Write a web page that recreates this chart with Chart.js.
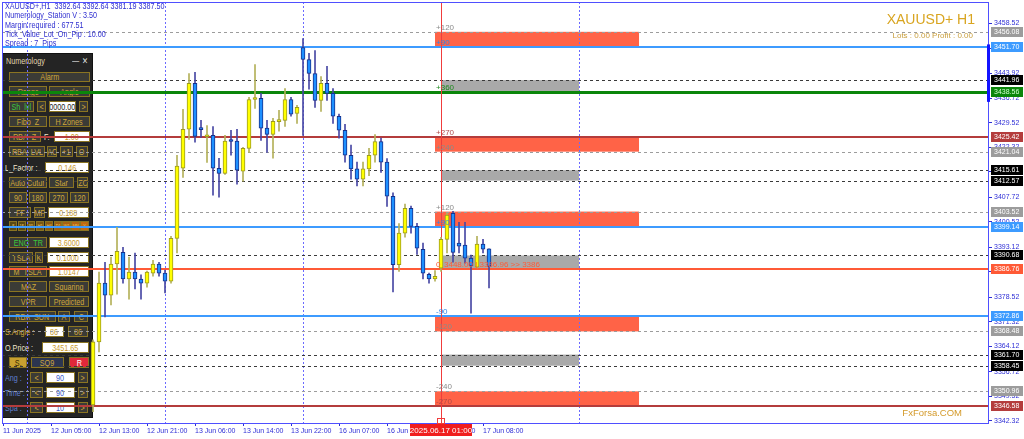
<!DOCTYPE html>
<html>
<head>
<meta charset="utf-8">
<script src="https://cdn.jsdelivr.net/npm/chart.js@4.4.1/dist/chart.umd.min.js"></script>
<style>
html, body { margin: 0; padding: 0; background: #fff; width: 1024px; height: 439px; overflow: hidden; }
#wrap { position: relative; width: 1024px; height: 439px; font-family: 'Liberation Sans', sans-serif; }
#chart { position: absolute; left: 0; top: 0; z-index: 2; }
.p { position: absolute; z-index: 1; box-sizing: border-box; font-size: 9px; display: flex; align-items: center; justify-content: center; white-space: nowrap; overflow: hidden; }
.p span { display: inline-block; transform: scaleX(0.8); transform-origin: 50% 50%; }
.frame { background: #242424; border: 1px solid #111; }
.b { background: #3b3b36; border: 1px solid #8a7422; color: #cfa63a; }
.g { background: #3b3b36; border: 1px solid #8a7422; color: #3cc83c; }
.w { background: #fff; border: 1px solid #8a7422; color: #c9992c; }
.wk { background: #fff; border: 1px solid #8a7422; color: #222; }
.wb { background: #fff; border: 1px solid #8a7422; color: #3a5ac8; }
.l, .lw, .lb { justify-content: flex-start; }
.l span, .lw span, .lb span { transform-origin: 0 50%; }
.l { color: #d8ab3a; }
.lw { color: #efe6cc; }
.lb { color: #5f7fd0; }
.sg { background: #c8a030; border: 1px solid #8a7422; color: #3a2a00; }
.sd { background: #2c3550; border: 1px solid #8a7422; color: #cfa63a; }
.sr { background: #e0283a; border: 1px solid #8a7422; color: #fff; }
.txt { position: absolute; z-index: 3; white-space: nowrap; }
#head { left: 5px; top: 2px; color: #2f2fd0; font-size: 9px; line-height: 9.3px; transform: scaleX(0.8); transform-origin: 0 0; }
#sym { right: 49px; top: 11px; color: #d9a520; font-size: 14px; }
#lots { right: 51px; top: 31px; color: #c9a040; font-size: 8px; }
#brand { right: 62px; top: 407px; color: #d49a2a; font-size: 9.5px; }
</style>
</head>
<body>
<div id="wrap">
  <canvas id="chart" width="1024" height="439"></canvas>
  <div id="head" class="txt">XAUUSD+,H1&nbsp; 3392.64 3392.64 3381.19 3387.50<br>Numerology_Station V : 3.50<br>Margin required : 677.51<br>Tick_Value_Lot_On_Pip : 10.00<br>Spread : 7&nbsp; Pips</div>
  <div id="sym" class="txt">XAUUSD+ H1</div>
  <div id="lots" class="txt">Lots : 0.00 Profit : 0.00</div>
  <div id="brand" class="txt">FxForsa.COM</div>
</div>
<script>
// ---- data ----
const FIRST_BAR = 11; // bar index of the first candle (bar 0 = 12 Jun 01:00)

const candleOpen = [3347.0, 3365.4, 3382.6, 3379.1, 3388.2, 3391.6, 3383.8, 3385.8, 3383.8, 3382.6,
  3385.5, 3388.2, 3385.5, 3383.2, 3395.7, 3416.2, 3427.6, 3441.0, 3428.0, 3425.4,
  3425.8, 3416.2, 3414.7, 3424.3, 3424.1, 3415.3, 3422.0, 3436.3, 3436.6, 3427.9,
  3426.1, 3429.8, 3430.2, 3436.3, 3432.2, 3451.5, 3448.0, 3443.9, 3436.0, 3441.0,
  3438.1, 3431.4, 3427.3, 3420.0, 3416.0, 3413.0, 3416.0, 3420.0, 3424.0, 3418.0,
  3408.0, 3388.0, 3397.2, 3404.5, 3399.2, 3392.5, 3385.2, 3383.8, 3387.0, 3395.4,
  3403.0, 3394.3, 3393.7, 3389.9, 3387.3, 3394.0, 3392.64];
const candleHigh = [3366.0, 3385.8, 3388.7, 3390.2, 3398.9, 3393.1, 3390.2, 3391.4, 3385.0, 3386.1,
  3389.3, 3388.7, 3386.4, 3396.3, 3420.0, 3433.4, 3443.9, 3444.2, 3430.2, 3428.7,
  3428.4, 3419.1, 3425.8, 3427.3, 3427.6, 3422.3, 3436.9, 3446.5, 3438.1, 3430.2,
  3430.8, 3433.1, 3439.5, 3436.9, 3434.6, 3454.1, 3449.8, 3450.6, 3443.0, 3446.0,
  3439.5, 3432.0, 3429.0, 3423.0, 3418.0, 3418.0, 3422.0, 3426.0, 3425.0, 3419.0,
  3409.0, 3400.0, 3405.7, 3405.1, 3400.1, 3394.3, 3385.5, 3386.3, 3396.0, 3403.1,
  3403.6, 3400.4, 3400.4, 3390.8, 3396.3, 3395.4, 3392.64];
const candleLow = [3345.0, 3362.5, 3372.7, 3376.2, 3379.4, 3382.6, 3377.9, 3380.9, 3377.9, 3381.4,
  3384.6, 3384.6, 3379.7, 3382.6, 3391.4, 3413.5, 3424.6, 3423.8, 3425.2, 3417.9,
  3408.3, 3407.7, 3414.4, 3420.0, 3411.5, 3412.4, 3420.8, 3433.7, 3424.3, 3420.8,
  3419.1, 3427.0, 3428.4, 3431.4, 3429.3, 3425.8, 3439.3, 3434.0, 3432.8, 3436.0,
  3429.3, 3425.0, 3418.0, 3413.0, 3411.0, 3411.0, 3414.0, 3418.0, 3415.0, 3405.0,
  3380.0, 3386.0, 3396.0, 3397.2, 3391.0, 3383.8, 3382.6, 3383.2, 3386.0, 3391.4,
  3388.7, 3391.4, 3388.4, 3373.8, 3387.0, 3391.4, 3381.19];
const candleClose = [3365.4, 3382.6, 3379.1, 3388.2, 3391.9, 3383.8, 3385.8, 3383.8, 3382.6, 3385.8,
  3388.2, 3385.5, 3383.2, 3395.7, 3416.8, 3427.6, 3441.0, 3425.5, 3427.5, 3425.9,
  3416.2, 3414.7, 3424.1, 3424.0, 3415.6, 3422.0, 3436.3, 3436.6, 3427.9, 3426.1,
  3429.9, 3430.1, 3436.3, 3432.0, 3434.0, 3448.0, 3443.9, 3436.0, 3441.0, 3438.1,
  3431.4, 3427.3, 3420.0, 3416.0, 3413.0, 3416.0, 3420.0, 3424.0, 3418.0, 3408.0,
  3388.0, 3397.2, 3404.5, 3399.2, 3392.8, 3385.5, 3383.8, 3384.6, 3395.4, 3402.5,
  3391.6, 3393.4, 3389.9, 3387.6, 3394.0, 3392.5, 3387.50];

const priceTicks = [3458.52, 3451.32, 3443.92, 3436.72, 3429.52, 3422.32, 3415.12, 3407.72, 3400.52,
  3393.12, 3385.92, 3378.52, 3371.32, 3364.12, 3356.72, 3349.52, 3342.32];

const timeTickBars = [-4, 4, 12, 20, 28, 36, 44, 52, 60, 68, 76];
const timeTickLabels = ['11 Jun 2025', '12 Jun 05:00', '12 Jun 13:00', '12 Jun 21:00', '13 Jun 06:00',
  '13 Jun 14:00', '13 Jun 22:00', '16 Jun 07:00', '16 Jun 15:00', '16 Jun 23:00', '17 Jun 08:00'];

const daySeparatorBars = [0, 23, 46, 92];
const cursorBar = 69;
const cursorLabel = '2025.06.17 01:00';

const levelPrices = [3456.08, 3451.70, 3441.96, 3438.56, 3425.42, 3421.04, 3415.61, 3412.57, 3403.52,
  3399.14, 3390.68, 3386.76, 3372.86, 3368.48, 3361.70, 3358.45, 3350.96, 3346.58];
const levelKinds = ['gray', 'blue', 'black', 'green', 'red', 'gray', 'black', 'black', 'gray',
  'blue', 'black', 'orange', 'blue', 'gray', 'black', 'black', 'gray', 'red'];
const levelTags = ['+120', '+90', '', '+360', '+270', '+240', '', '', '+120',
  '+90', '', '0', '-90', '-120', '', '', '-240', '-270'];

const redZoneTop = [3456.08, 3425.42, 3403.52, 3372.86, 3350.96];
const redZoneBottom = [3451.70, 3421.04, 3399.14, 3368.48, 3346.58];
const redZoneBars = [68, 102];
const grayZoneTop = [3441.96, 3415.61, 3390.68, 3361.70];
const grayZoneBottom = [3438.56, 3412.57, 3386.76, 3358.45];
const grayZoneBars = [69, 92];
const zoneNote = '3448.00 | 3386.96 >> 3386';


/* ===============================
   left panel (buttons and inputs)
=============================== */

const PANEL = [
  ['', 2, 53, 93, 418, 'frame'],
  ['Alarm', 9, 72, 90, 82, 'b'],
  ['Range', 9, 86, 47, 97, 'b'], ['Angle', 49, 86, 90, 97, 'b'],
  ['Sh_lvl', 9, 101, 34, 112, 'g'], ['<', 37, 101, 46, 112, 'b'], ['10000.000', 49, 101, 76, 112, 'wk'], ['>', 79, 101, 88, 112, 'b'],
  ['Fibo_Z', 9, 116, 47, 127, 'b'], ['H Zones', 49, 116, 90, 127, 'b'],
  ['RBA_Z', 9, 131, 41, 142, 'b'], ['F.', 44, 131, 52, 142, 'lw'], ['1.00', 54, 131, 90, 142, 'w'],
  ['RBA_LVL', 9, 146, 45, 157, 'b'], ['AC', 47, 146, 57, 157, 'b'], ['+1', 60, 146, 73, 157, 'b'], ['O', 76, 146, 88, 157, 'b'],
  ['L_Factor :', 5, 162, 43, 173, 'lw'], ['0.146', 45, 162, 89, 173, 'w'],
  ['Auto Cutur', 9, 177, 47, 188, 'b'], ['Star', 49, 177, 74, 188, 'b'], ['ZC', 77, 177, 88, 188, 'b'],
  ['90', 9, 192, 27, 203, 'b'], ['180', 29, 192, 47, 203, 'b'], ['270', 49, 192, 68, 203, 'b'], ['120', 70, 192, 89, 203, 'b'],
  ['FF', 9, 207, 31, 218, 'b'], ['MF', 34, 207, 45, 218, 'b'], ['0.188', 48, 207, 89, 218, 'w'],
  ['ENG_TR', 9, 237, 47, 248, 'g'], ['3.6000', 49, 237, 89, 248, 'w'],
  ['TSLA', 9, 252, 33, 263, 'b'], ['K', 35, 252, 43, 263, 'b'], ['0.1000', 47, 252, 89, 263, 'w'],
  ['M_TSLA', 9, 266, 47, 277, 'b'], ['1.0147', 49, 266, 89, 277, 'w'],
  ['MAZ', 9, 281, 47, 292, 'b'], ['Squaring', 49, 281, 89, 292, 'b'],
  ['VPR', 9, 296, 47, 307, 'b'], ['Predicted', 49, 296, 89, 307, 'b'],
  ['RBA_SUN', 9, 311, 56, 322, 'b'], ['A', 58, 311, 70, 322, 'b'], ['C', 74, 311, 88, 322, 'b'],
  ['S.Angle :', 5, 326, 43, 337, 'l'], ['86', 45, 326, 64, 337, 'w'], ['86', 68, 326, 88, 337, 'b'],
  ['O.Price :', 5, 342, 40, 353, 'lw'], ['3451.65', 42, 342, 89, 353, 'w'],
  ['S.', 9, 357, 27, 368, 'sg'], ['_SQ9_', 31, 357, 64, 368, 'sd'], ['R', 69, 357, 89, 368, 'sr'],
  ['Ang :', 5, 372, 28, 383, 'lb'], ['<', 30, 372, 43, 383, 'b'], ['90', 46, 372, 75, 383, 'wb'], ['>', 78, 372, 88, 383, 'b'],
  ['Time :', 5, 387, 28, 398, 'lb'], ['<', 30, 387, 43, 398, 'b'], ['90', 46, 387, 75, 398, 'wb'], ['>', 78, 387, 88, 398, 'b'],
  ['Spa :', 5, 402, 28, 413, 'lb'], ['<', 30, 402, 43, 413, 'b'], ['10', 46, 402, 75, 413, 'wb'], ['>', 78, 402, 88, 413, 'b']
];

const wrap = document.getElementById('wrap');

function addBox(text, x1, y1, x2, y2, cls, extra) {
  const d = document.createElement('div');
  d.className = 'p ' + cls;
  d.style.left = x1 + 'px';
  d.style.top = y1 + 'px';
  d.style.width = (x2 - x1) + 'px';
  d.style.height = (y2 - y1) + 'px';
  if (extra) Object.assign(d.style, extra);
  if (text) {
    const s = document.createElement('span');
    s.textContent = text;
    d.appendChild(s);
  }
  wrap.appendChild(d);
}

PANEL.forEach(it => addBox(...it));

// title bar
addBox('Numerology', 6, 55, 60, 66, 'lw', { color: '#e0d6b0' });
addBox('—', 72, 55, 80, 66, 'lw', { color: '#ddd' });
addBox('✕', 82, 55, 91, 66, 'lw', { color: '#ddd' });

// small coloured timeframe strip
const stripText = ['5', '15', '30', 'H1', 'H4', 'D1', 'W1', 'MN', 'Y'];
const stripFill = ['#5a4a14', '#5a4a14', '#6a5216', '#7a5614', '#8c5a12', '#9c5e12', '#a86212', '#b46612', '#c06a10'];
stripText.forEach((t, k) => {
  const x1 = 9 + k * 8.9;
  addBox(t, x1, 221, x1 + 8.4, 231, 'b', { background: stripFill[k], fontSize: '5px', color: '#e8c060' });
});


/* ===============================
   chart
=============================== */

const FONT = "'Liberation Sans', sans-serif";
const AXIS_BLUE = '#2f2fd6';

const isUp = k => candleClose[k] >= candleOpen[k];
const bodyData = candleOpen.map((o, k) => ({ x: FIRST_BAR + k, y: [o, candleClose[k]] }));
const wickData = candleLow.map((l, k) => ({ x: FIRST_BAR + k, y: [l, candleHigh[k]] }));

const KIND = {
  gray:   { color: '#9c9c9c', width: 1, dash: [3, 3], box: '#9c9c9c', text: '#ffffff', tag: '#8a8a8a' },
  black:  { color: '#3a3a3a', width: 1, dash: [3, 3], box: '#000000', text: '#ffffff', tag: '#333333' },
  blue:   { color: '#3d9bff', width: 2, dash: [], box: '#3d9bff', text: '#ffffff', tag: '#2f86e8' },
  green:  { color: '#0b860b', width: 3, dash: [], box: '#0b860b', text: '#d0ffd0', tag: '#1a8a1a' },
  red:    { color: '#b43c3c', width: 2, dash: [], box: '#b43c3c', text: '#ffffff', tag: '#b04a4a' },
  orange: { color: '#ff5a36', width: 2, dash: [], box: '#ff5a36', text: '#ffffff', tag: '#ff5a36' }
};

const overlay = {
  id: 'overlay',

  beforeDatasetsDraw(chart) {
    const { ctx, chartArea: a, scales: { x, y } } = chart;
    ctx.save();

    // zones
    ctx.fillStyle = '#ff6347';
    redZoneTop.forEach((t, k) => {
      const x1 = x.getPixelForValue(redZoneBars[0]), x2 = x.getPixelForValue(redZoneBars[1]);
      const y1 = y.getPixelForValue(t), y2 = y.getPixelForValue(redZoneBottom[k]);
      ctx.fillRect(x1, y1, x2 - x1, y2 - y1);
    });
    ctx.fillStyle = '#a9a9a9';
    grayZoneTop.forEach((t, k) => {
      const x1 = x.getPixelForValue(grayZoneBars[0]), x2 = x.getPixelForValue(grayZoneBars[1]);
      const y1 = y.getPixelForValue(t), y2 = y.getPixelForValue(grayZoneBottom[k]);
      ctx.fillRect(x1, y1, x2 - x1, y2 - y1);
    });

    // day separators
    ctx.strokeStyle = '#6a6aff';
    ctx.lineWidth = 1;
    ctx.setLineDash([2, 2]);
    daySeparatorBars.forEach(b => {
      const px = Math.round(x.getPixelForValue(b)) + 0.5;
      ctx.beginPath();
      ctx.moveTo(px, a.top);
      ctx.lineTo(px, a.bottom);
      ctx.stroke();
    });

    // price levels
    levelPrices.forEach((p, k) => {
      const st = KIND[levelKinds[k]];
      const py = Math.round(y.getPixelForValue(p)) + (st.width % 2 ? 0.5 : 0);
      ctx.strokeStyle = st.color;
      ctx.lineWidth = st.width;
      ctx.setLineDash(st.dash);
      ctx.beginPath();
      ctx.moveTo(a.left, py);
      ctx.lineTo(a.right, py);
      ctx.stroke();
    });

    // current bar cursor
    ctx.setLineDash([]);
    ctx.strokeStyle = '#f03c3c';
    ctx.lineWidth = 1;
    const cx = Math.round(x.getPixelForValue(cursorBar)) + 0.5;
    ctx.beginPath();
    ctx.moveTo(cx, a.top);
    ctx.lineTo(cx, a.bottom);
    ctx.stroke();

    ctx.restore();
  },

  afterDatasetsDraw(chart) {
    const { ctx, scales: { x, y } } = chart;
    ctx.save();
    ctx.font = '8px ' + FONT;
    ctx.textBaseline = 'alphabetic';
    ctx.textAlign = 'left';
    const tx = x.getPixelForValue(redZoneBars[0]) + 1;
    levelTags.forEach((t, k) => {
      if (!t) return;
      ctx.fillStyle = KIND[levelKinds[k]].tag;
      ctx.fillText(t, tx, y.getPixelForValue(levelPrices[k]) - 2);
    });
    // note inside the gray zone around price
    ctx.fillStyle = '#ff5a36';
    ctx.fillText(zoneNote, x.getPixelForValue(grayZoneBars[0]) + 3, y.getPixelForValue(grayZoneBottom[2]) - 2);
    ctx.restore();
  },

  afterDraw(chart) {
    const { ctx, chartArea: a, scales: { x, y } } = chart;
    ctx.save();

    // frame
    ctx.strokeStyle = '#4f4fff';
    ctx.lineWidth = 1;
    ctx.strokeRect(a.left + 0.5, a.top + 0.5, a.right - a.left - 1, a.bottom - a.top);

    // blue marker on the price axis
    ctx.fillStyle = '#1414ff';
    const m1 = y.getPixelForValue(3452.4), m2 = y.getPixelForValue(3435.6);
    ctx.fillRect(a.right - 2, m1, 3, m2 - m1);

    // price boxes on the right axis
    ctx.font = '7px ' + FONT;
    ctx.textBaseline = 'middle';
    ctx.textAlign = 'left';
    levelPrices.forEach((p, k) => {
      const st = KIND[levelKinds[k]];
      const py = Math.round(y.getPixelForValue(p));
      ctx.fillStyle = st.box;
      ctx.fillRect(a.right + 2, py - 5, 32, 10);
      ctx.fillStyle = st.text;
      ctx.fillText(p.toFixed(2), a.right + 5, py + 0.5);
    });

    // cursor time box
    const cx = Math.round(x.getPixelForValue(cursorBar));
    ctx.strokeStyle = '#f03c3c';
    ctx.strokeRect(cx - 3.5, a.bottom - 4.5, 7, 5);
    ctx.fillStyle = '#f01e1e';
    ctx.fillRect(cx - 31, a.bottom + 1, 62, 12);
    ctx.fillStyle = '#ffffff';
    ctx.textAlign = 'center';
    ctx.font = '8px ' + FONT;
    ctx.fillText(cursorLabel, cx, a.bottom + 7.5);

    ctx.restore();
  }
};

new Chart(document.getElementById('chart'), {
  type: 'bar',
  data: {
    datasets: [
      {
        label: 'body',
        data: bodyData,
        grouped: false,
        order: 1,
        barThickness: 4,
        minBarLength: 2,
        borderWidth: 1,
        borderSkipped: false,
        backgroundColor: c => isUp(c.dataIndex) ? '#ffff00' : '#1e90ff',
        borderColor: c => isUp(c.dataIndex) ? '#9c9a1e' : '#16308c'
      },
      {
        label: 'wick',
        data: wickData,
        grouped: false,
        order: 2,
        barThickness: 1,
        borderWidth: 0,
        backgroundColor: c => isUp(c.dataIndex) ? '#b4b15a' : '#4848a4'
      }
    ]
  },
  options: {
    responsive: false,
    animation: false,
    devicePixelRatio: 1,
    layout: { padding: { left: 2, top: 2, right: 0, bottom: 0 } },
    plugins: { legend: { display: false }, tooltip: { enabled: false } },
    scales: {
      x: {
        type: 'linear',
        min: -4.1667,
        max: 160.33,
        offset: false,
        border: { display: false },
        grid: { display: true, drawOnChartArea: false, offset: false, tickLength: 3, color: AXIS_BLUE },
        afterBuildTicks: s => { s.ticks = timeTickBars.map(v => ({ value: v })); },
        afterFit: s => { s.height = 16; s.paddingLeft = 0; s.paddingRight = 0; },
        ticks: {
          autoSkip: false,
          maxRotation: 0,
          minRotation: 0,
          align: 'start',
          padding: 1,
          color: AXIS_BLUE,
          font: { family: FONT, size: 7 },
          callback: v => timeTickLabels[timeTickBars.indexOf(v)]
        }
      },
      y: {
        type: 'linear',
        position: 'right',
        min: 3341.7,
        max: 3464.8,
        beginAtZero: false,
        border: { display: false },
        grid: { display: true, drawOnChartArea: false, tickLength: 3, color: AXIS_BLUE },
        afterBuildTicks: s => { s.ticks = priceTicks.map(v => ({ value: v })); },
        afterFit: s => { s.width = 35; s.paddingTop = 0; s.paddingBottom = 0; },
        ticks: {
          padding: 2,
          color: AXIS_BLUE,
          font: { family: FONT, size: 7 },
          callback: v => v.toFixed(2)
        }
      }
    }
  },
  plugins: [overlay]
});
</script>
</body>
</html>
